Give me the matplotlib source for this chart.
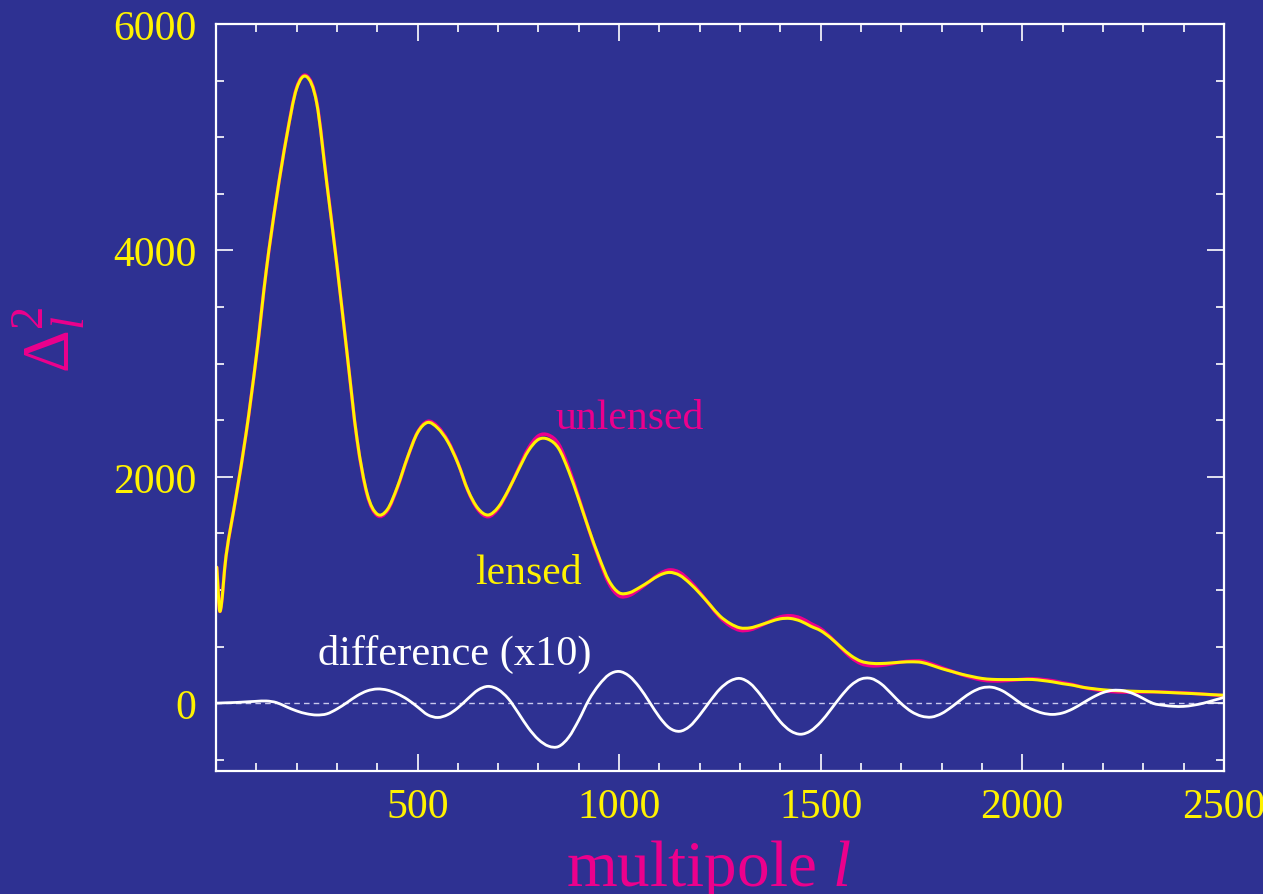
import matplotlib
matplotlib.use("Agg")
import matplotlib.pyplot as plt
from matplotlib.ticker import MultipleLocator
from matplotlib.path import Path
from matplotlib.patches import PathPatch

# ---------------- data ----------------
multipole = [2, 10, 25, 50, 75, 100, 125, 150, 175, 200, 225, 250, 275, 300, 325, 350,
             375, 400, 425, 450, 475, 500, 525, 550, 575, 600, 625, 650, 675, 700, 725,
             750, 775, 800, 825, 850, 875, 900, 925, 950, 975, 1000, 1025, 1050, 1075,
             1100, 1125, 1150, 1175, 1200, 1225, 1250, 1275, 1300, 1325, 1350, 1375,
             1400, 1425, 1450, 1475, 1500, 1525, 1550, 1575, 1600, 1625, 1650, 1675,
             1700, 1725, 1750, 1775, 1800, 1825, 1850, 1875, 1900, 1925, 1950, 1975,
             2000, 2025, 2050, 2075, 2100, 2125, 2150, 2175, 2200, 2225, 2250, 2275,
             2300, 2325, 2350, 2375, 2400, 2425, 2450, 2475, 2500]

lensed = [1200, 810, 1300, 1830, 2390, 3060, 3830, 4460, 5000, 5430, 5535, 5300, 4590,
          3870, 3095, 2330, 1850, 1670, 1710, 1910, 2170, 2390, 2480, 2430, 2310, 2120,
          1880, 1720, 1662, 1730, 1880, 2060, 2230, 2330, 2330, 2250, 2050, 1800, 1535,
          1290, 1080, 975, 975, 1020, 1075, 1130, 1155, 1130, 1060, 970, 870, 770, 704,
          665, 665, 690, 720, 745, 748, 725, 680, 640, 575, 495, 420, 370, 352, 350,
          355, 362, 365, 360, 335, 305, 280, 255, 235, 218, 210, 208, 208, 209, 209,
          200, 188, 172, 159, 140, 128, 118, 112, 108, 105, 102, 100, 96, 92, 88, 84,
          79, 74, 70]

unlensed = [1200, 810, 1300, 1829, 2389, 3058, 3828, 4460, 5003, 5437, 5544, 5310, 4600,
            3875, 3095, 2324, 1839, 1658, 1698, 1902, 2167, 2393, 2490, 2443, 2320, 2124,
            1876, 1708, 1647, 1718, 1876, 2069, 2252, 2362, 2368, 2288, 2080, 1815, 1532,
            1274, 1055, 947, 951, 1006, 1074, 1142, 1177, 1155, 1080, 980, 868, 758, 684,
            643, 648, 682, 725, 762, 772, 752, 704, 657, 581, 489, 404, 349, 330, 333,
            347, 363, 372, 372, 347, 314, 283, 251, 225, 204, 196, 197, 203, 210, 215,
            209, 198, 181, 164, 140, 123, 109, 101, 97, 97, 98, 100, 98, 95, 91, 86,
            79, 72, 65]

difference_x10 = [0, 1, 3, 6, 11, 16, 19, 5, -33, -69, -94, -105, -95, -52, 5, 65, 108,
                  125, 115, 82, 33, -34, -103, -127, -102, -42, 40, 116, 148, 120, 40,
                  -87, -220, -322, -380, -383, -301, -149, 29, 161, 252, 280, 239, 142,
                  11, -123, -220, -249, -205, -105, 15, 125, 195, 218, 174, 76, -47, -165,
                  -245, -275, -245, -167, -57, 59, 157, 213, 218, 170, 85, -5, -75, -115,
                  -123, -92, -33, 36, 97, 135, 140, 110, 53, -11, -56, -88, -100, -87,
                  -51, 0, 52, 93, 113, 110, 84, 41, -3, -19, -28, -29, -18, 0, 25, 50]

x_ticks = [500, 1000, 1500, 2000, 2500]
y_ticks = [0, 2000, 4000, 6000]

# ---------------- style ----------------
BG = "#2e3192"
YELLOW = "#fff200"
MAGENTA = "#ec008c"
SERIF = "Liberation Serif"
W, H = 1263, 895

plt.rcParams["mathtext.fontset"] = "custom"
plt.rcParams["mathtext.rm"] = SERIF
plt.rcParams["mathtext.it"] = SERIF + ":italic"
plt.rcParams["font.family"] = SERIF


def smooth_path(xs, ys):
    """Smooth cubic (Hermite/Bezier) path that passes through every data point."""
    n = len(xs)
    slopes = []
    for i in range(n):
        if i == 0:
            m = (ys[1] - ys[0]) / (xs[1] - xs[0])
        elif i == n - 1:
            m = (ys[-1] - ys[-2]) / (xs[-1] - xs[-2])
        else:
            m = (ys[i + 1] - ys[i - 1]) / (xs[i + 1] - xs[i - 1])
        slopes.append(m)
    verts = [(xs[0], ys[0])]
    codes = [Path.MOVETO]
    for i in range(n - 1):
        h = xs[i + 1] - xs[i]
        verts += [(xs[i] + h / 3, ys[i] + slopes[i] * h / 3),
                  (xs[i + 1] - h / 3, ys[i + 1] - slopes[i + 1] * h / 3),
                  (xs[i + 1], ys[i + 1])]
        codes += [Path.CURVE4] * 3
    return Path(verts, codes)


fig = plt.figure(figsize=(W / 100, H / 100), dpi=100, facecolor=BG)
ax = fig.add_axes([0.171, 0.1374, 0.798, 0.8346], facecolor=BG)

ax.axhline(0, color="#c9c9ee", lw=1.0, dashes=(4, 3), zorder=1)
for ys, col, lw, z in [(unlensed, MAGENTA, 2.5, 2), (lensed, YELLOW, 2.2, 3),
                       (difference_x10, "white", 2.0, 4)]:
    ax.add_patch(PathPatch(smooth_path(multipole, ys), facecolor="none",
                           edgecolor=col, lw=lw, zorder=z, joinstyle="round",
                           capstyle="round"))

ax.set_xlim(0, 2500)
ax.set_ylim(-600, 6000)
ax.set_xticks(x_ticks)
ax.set_yticks(y_ticks)
ax.xaxis.set_minor_locator(MultipleLocator(100))
ax.yaxis.set_minor_locator(MultipleLocator(500))

for s in ax.spines.values():
    s.set_color("white")
    s.set_linewidth(1.6)
    s.set_zorder(5)

ax.tick_params(which="both", direction="in", top=True, right=True, colors="white",
               labelcolor=YELLOW, labelsize=30)
ax.tick_params(which="major", length=12, width=1.2)
ax.tick_params(which="minor", length=6, width=1.2)
ax.tick_params(axis="x", which="major", pad=12)
ax.tick_params(axis="y", which="major", pad=14)

ax.set_xlabel(r"multipole $l$", color=MAGENTA, fontsize=47, labelpad=8)
ax.xaxis.label.set_x(0.489)
ax.text(-0.166, 0.578, r"$\Delta_l^2$", transform=ax.transAxes, rotation=90,
        color=MAGENTA, fontsize=48, ha="center", va="center")

ax.text(841, 2430, "unlensed", color=MAGENTA, fontsize=30, ha="left", va="baseline")
ax.text(643, 1060, "lensed", color=YELLOW, fontsize=30, ha="left", va="baseline")
ax.text(253, 345, "difference (x10)", color="white", fontsize=30.5, ha="left",
        va="baseline")

fig.savefig("out.png", dpi=100, facecolor=BG)
